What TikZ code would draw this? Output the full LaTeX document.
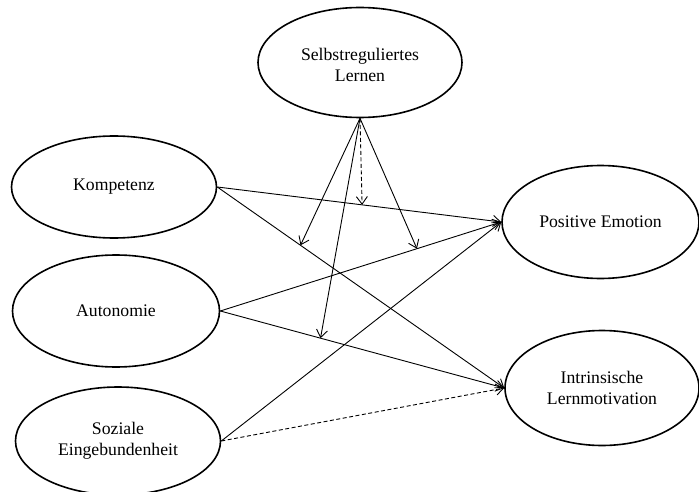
\documentclass[tikz,border=0pt]{standalone}
\usepackage{fontspec}
\setmainfont{Liberation Serif}
\usetikzlibrary{shapes.geometric,arrows.meta}
\begin{document}
\begin{tikzpicture}[x=1pt,y=-1pt,
  construct/.style={draw, ellipse, line width=1.6pt, inner sep=0pt, align=center,
    font=\fontsize{17.7}{21.5}\selectfont},
  conn/.style={line width=0.9pt, -{Straight Barb[length=7.5pt,width=11pt,line width=0.9pt]}},
  dconn/.style={conn, dash pattern=on 4pt off 2.5pt}]
\useasboundingbox (0,0) rectangle (699,492);
\fill[white] (0,0) rectangle (699,492);

\node[construct, minimum width=204pt, minimum height=110pt] (sl) at (360,62.5)
  {\raisebox{-4pt}[\height][\depth]{\begin{tabular}{@{}c@{}}Selbstreguliertes\\Lernen\end{tabular}}};
\node[construct, minimum width=205pt, minimum height=102pt] (k) at (114,187) {Kompetenz};
\node[construct, minimum width=207pt, minimum height=112pt] (au) at (116,311) {Autonomie};
\node[construct, minimum width=205pt, minimum height=108pt] (soz) at (118,441) {Soziale\\Eingebundenheit};
\node[construct, minimum width=197pt, minimum height=113pt] (pe) at (600.5,222) {Positive Emotion};
\node[construct, minimum width=194pt, minimum height=115pt] (im) at (602,388) {Intrinsische\\Lernmotivation};

\draw[conn] (k.east) -- coordinate[pos=0.51] (m1) (pe.west);
\draw[conn] (k.east) -- coordinate[pos=0.29] (m2) (im.west);
\draw[conn] (au.east) -- coordinate[pos=0.70] (m3) (pe.west);
\draw[conn] (au.east) -- coordinate[pos=0.353] (m4) (im.west);
\draw[conn] (soz.east) -- (pe.west);
\draw[dconn] (soz.east) -- (im.west);

\draw[dconn] (sl.south) -- (m1);
\draw[conn] (sl.south) -- (m2);
\draw[conn] (sl.south) -- (m3);
\draw[conn] (sl.south) -- (m4);
\end{tikzpicture}
\end{document}
